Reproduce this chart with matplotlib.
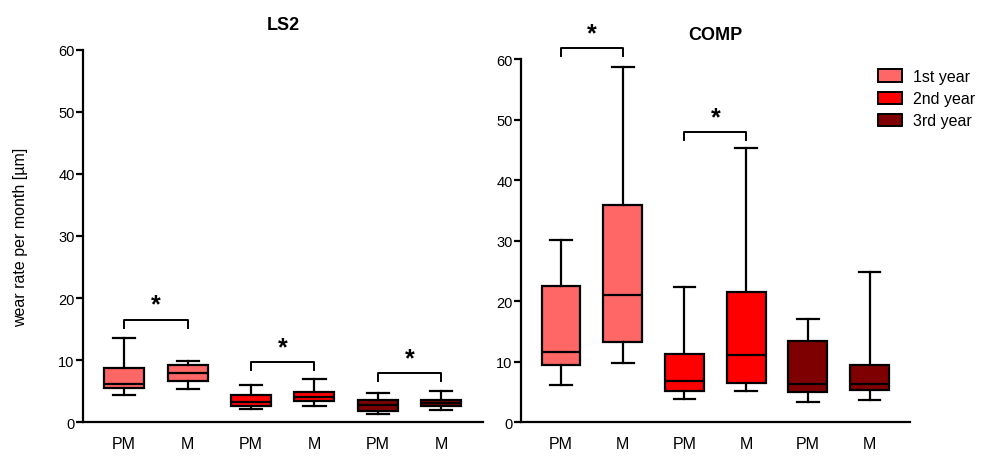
import matplotlib
matplotlib.use('Agg')
import matplotlib.pyplot as plt
from matplotlib.patches import Patch

plt.rcParams['font.family'] = ['Liberation Sans', 'DejaVu Sans']

labels = ['PM', 'M', 'PM', 'M', 'PM', 'M']
years = ['1st year', '2nd year', '3rd year']
colors = ['#FF6666', '#FF0000', '#7F0000']

# box stats: low whisker, Q1, median, Q3, high whisker
ls2_low = [4.4, 5.3, 2.1, 2.6, 1.3, 2.0]
ls2_q1 = [5.45, 6.6, 2.7, 3.4, 1.75, 2.6]
ls2_med = [6.15, 8.0, 3.3, 4.0, 2.8, 3.1]
ls2_q3 = [8.7, 9.15, 4.4, 4.8, 3.6, 3.6]
ls2_high = [13.6, 9.8, 6.0, 6.9, 4.65, 5.0]

comp_low = [6.2, 9.75, 3.85, 5.1, 3.4, 3.75]
comp_q1 = [9.4, 13.3, 5.1, 6.55, 4.95, 5.4]
comp_med = [11.7, 21.1, 6.9, 11.1, 6.4, 6.4]
comp_q3 = [22.6, 36.0, 11.3, 21.5, 13.5, 9.4]
comp_high = [30.1, 58.8, 22.3, 45.4, 17.0, 24.8]

# significance brackets: (left box, right box, bracket height, leg end)
ls2_sig = [(1, 2, 16.5, 15.2), (3, 4, 9.7, 8.4), (5, 6, 7.9, 6.6)]
comp_sig = [(1, 2, 61.8, 60.5), (3, 4, 48.0, 46.7)]


def draw_panel(ax, low, q1, med, q3, high, sig, title, title_pad):
    stats = []
    for i in range(len(labels)):
        stats.append({'whislo': low[i], 'q1': q1[i], 'med': med[i],
                      'q3': q3[i], 'whishi': high[i], 'fliers': []})
    pos = list(range(1, len(labels) + 1))
    bp = ax.bxp(stats, positions=pos, widths=0.63, patch_artist=True,
                showfliers=False,
                boxprops=dict(linewidth=1.6, edgecolor='black'),
                medianprops=dict(color='black', linewidth=1.6),
                whiskerprops=dict(linewidth=1.6, color='black'),
                capprops=dict(linewidth=1.6, color='black'),
                capwidths=0.35)
    for i, box in enumerate(bp['boxes']):
        box.set_facecolor(colors[i // 2])
    for a, b, h, leg in sig:
        ax.plot([a, a, b, b], [leg, h, h, leg], color='black', lw=1.4,
                clip_on=False)
        ax.text((a + b) / 2, h + 0.5, '*', ha='center', va='bottom',
                fontsize=18, fontweight='bold', clip_on=False)
    ax.set_xlim(0.35, 6.66)
    ax.set_ylim(0, 60)
    ax.set_yticks([0, 10, 20, 30, 40, 50, 60])
    ax.set_xticks(pos)
    ax.set_xticklabels(labels, fontsize=11.5)
    ax.tick_params(axis='x', length=0, pad=10)
    ax.tick_params(axis='y', length=5, width=1.6, labelsize=10.5, pad=1)
    for s in ['top', 'right']:
        ax.spines[s].set_visible(False)
    for s in ['left', 'bottom']:
        ax.spines[s].set_linewidth(1.6)
    ax.set_title(title, fontsize=13, fontweight='bold', pad=title_pad)


fig = plt.figure(figsize=(9.82, 4.6), dpi=100)
ax1 = fig.add_axes([0.0845, 0.0798, 0.4075, 0.81])
ax2 = fig.add_axes([0.5305, 0.0798, 0.3965, 0.789])

draw_panel(ax1, ls2_low, ls2_q1, ls2_med, ls2_q3, ls2_high, ls2_sig, 'LS2', 15)
draw_panel(ax2, comp_low, comp_q1, comp_med, comp_q3, comp_high, comp_sig, 'COMP', 15)

ax1.set_ylabel('wear rate per month [µm]', fontsize=11.5, labelpad=22)

handles = [Patch(facecolor=c, edgecolor='black', linewidth=1.4) for c in colors]
fig.legend(handles, years, loc='upper left', bbox_to_anchor=(0.879, 0.879),
           frameon=False, fontsize=11.5, handlelength=1.5, handleheight=0.8,
           labelspacing=0.45, handletextpad=0.7)

fig.savefig('out.png', dpi=100)
